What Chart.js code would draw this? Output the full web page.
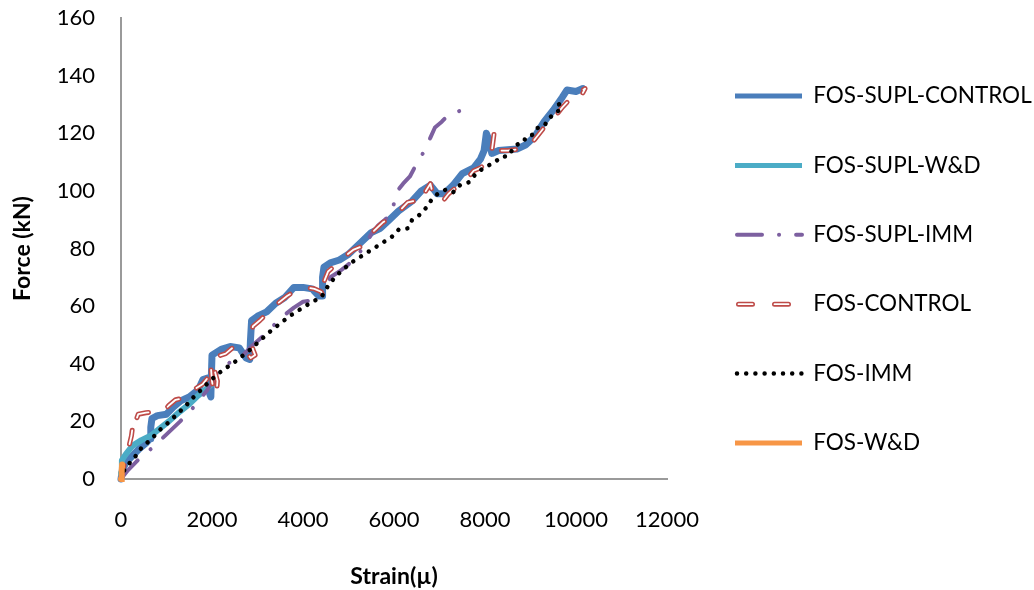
<!DOCTYPE html>
<html>
<head>
<meta charset="utf-8">
<script src="https://cdn.jsdelivr.net/npm/chart.js@4.4.1/dist/chart.umd.min.js"></script>
<style>
html,body{margin:0;padding:0;background:#fff;}
#wrap{width:1034px;height:590px;position:relative;}
</style>
</head>
<body>
<div id="wrap"><canvas id="c" width="1034" height="590"></canvas></div>
<script>
// ---- tick labels ----
const xTickValues = [0, 2000, 4000, 6000, 8000, 10000, 12000];
const yTickValues = [0, 20, 40, 60, 80, 100, 120, 140, 160];

// ---- series names ----
const seriesNames = ['FOS-SUPL-CONTROL', 'FOS-SUPL-W&D', 'FOS-SUPL-IMM', 'FOS-CONTROL', 'FOS-IMM', 'FOS-W&D'];

// ---- FOS-SUPL-CONTROL ----
const supControlStrain = [0,30,100,250,400,550,640,655,680,800,1000,1150,1300,1500,1700,1800,1900,1950,1975,1985,2000,2200,2400,2600,2750,2830,2845,2870,3000,3200,3400,3600,3800,4000,4200,4350,4420,4430,4460,4600,4800,5000,5300,5500,5700,5900,6100,6400,6600,6800,6950,7100,7300,7500,7750,7900,7980,8030,8080,8150,8300,8700,8900,9100,9300,9500,9700,9800,10000,10150];
const supControlForce = [0,3,5.5,8,10.5,12.5,14,18,21,22,22.5,25,27,28.5,31,34.5,35,29.5,28.5,35,43,45,46,45.5,42,41.5,48,55,56.5,58,61,63,66.5,66.5,66,63.5,63.5,70,73.5,75,76,78,82.5,85.5,87,90,93,96.5,100,102,99,99,102,106,108,111,114,120,118,113,114,114.5,116,119,124,128,132.5,135,134.5,135.5];

// ---- FOS-SUPL-W&D ----
const supWDStrain = [0,20,100,250,450,650,850,1050,1300,1500,1700,1850,2000];
const supWDForce = [2,6.5,8.5,11.5,13.5,15,17.5,20,23.5,26,29,31,33];

// ---- FOS-SUPL-IMM ----
const supImmStrain = [0,150,400,700,1000,1300,1600,1900,2050,2150,2400,2650,2900,3150,3400,3600,3800,4000,4200,4400,4500,4600,4800,5000,5200,5350,5500,5650,5800,5950,6050,6200,6350,6450,6600,6700,6800,6900,7050,7200,7400,7620];
const supImmForce = [0,3,7,11,15.5,20,25,31,35,38,40.5,42.5,46.5,50,54,57,59.5,61.5,62,63,66,70,72,74.5,78,80.5,85,88,90,92,99.5,102.5,105,108,112,115,118.5,122,124,126.5,127.5,128.8];

// ---- FOS-CONTROL ----
const controlStrain = [0,40,100,170,230,270,290,320,380,550,800,900,1050,1200,1350,1500,1650,1800,1900,1950,1970,2000,2050,2100,2120,2000,2100,2300,2450,2600,2750,2850,2950,2900,2850,2900,3050,3250,3450,3650,3850,4050,4250,4400,4450,4500,4450,4550,4700,4900,5100,5250,5400,5550,5750,5950,6150,6300,6450,6650,6700,6800,6850,6950,7050,7200,7350,7450,7600,7750,7900,8050,8150,8200,8250,8300,8500,8750,8900,9050,9200,9350,9550,9700,9850,9950,10100,10200,10150];
const controlForce = [0,3,7,11,15,20,21.5,20,22.5,23,23.5,23,25.5,27.5,28,31,31.5,33,35,38,40,34,29,30,34,41,42.5,43.5,45.5,46,44,42,43,45,50,53,55,58,61,63.5,65.5,66.5,66,65,63,64,68,72,74,77,79.5,80.5,84.5,86,89,91,93.5,96,96.5,96,100,102.5,99,97.5,96,99,101,102.5,104,107,108,110,114,120,116,114,114,114.5,115,117,120,123,126,129,131.5,134,134.5,135.5,134];

// ---- FOS-IMM ----
const immStrain = [0,50,130,300,480,650,850,1000,1200,1400,1600,1800,1950,2100,2250,2450,2650,2850,3050,3300,3500,3700,3950,4200,4400,4550,4700,4900,5100,5350,5550,5750,5950,6100,6300,6400,6550,6700,6850,7000,7150,7300,7450,7650,7800,8000,8200,8350,8500,8600,8700,8850,8900,9050,9150,9300,9400,9550,9650,9600,9800];
const immForce = [0,2.5,4.5,7.5,11.5,13.5,17,19,22,25,28.5,31.5,34,36,38,40,42.5,45,48,51.5,54,56.5,59,61.5,63,67,70,73,75.5,78,80,82,84,86.5,87,90,91.5,94,97.5,99.5,100.5,99.5,102,103,106,108.3,109.7,111.8,112,114.2,116,117,118.7,119.5,121.8,122.5,125,127.3,128,129.8,131.5];

// ---- FOS-W&D ----
const wdStrain = [0,15,25];
const wdForce = [0,3,5];

// ---- layout constants ----
const LEG_FONT = 22.5;
const LEG_PAD = 69.4 - LEG_FONT;
const LEG_LINE_X = 735;
const LEG_FIRST_Y = 96;
const LEG_BOX_W = 67;
const RED_DASH = [14, 22];
const RED_LEG_OFFSET = 32.5;

const pts = (xs, ys) => xs.map((x, i) => ({x: x, y: ys[i]}));

Chart.defaults.font.family = "Lato, 'Open Sans', 'DejaVu Sans', sans-serif";
Chart.defaults.color = '#000';

const base = {showLine: true, pointRadius: 0, pointHoverRadius: 0, tension: 0, clip: false, fill: false};

const datasets = [
  Object.assign({}, base, {label: seriesNames[0], data: pts(supControlStrain, supControlForce), borderColor: '#4A7EBB', backgroundColor: '#4A7EBB', borderWidth: 7, borderJoinStyle: 'round', borderCapStyle: 'round', order: 70, legendWidth: 5, legendCap: 'butt'}),
  Object.assign({}, base, {label: seriesNames[1], data: pts(supWDStrain, supWDForce), borderColor: '#4BACC6', backgroundColor: '#4BACC6', borderWidth: 6, borderJoinStyle: 'round', borderCapStyle: 'round', order: 60, legendWidth: 5, legendCap: 'butt'}),
  Object.assign({}, base, {label: seriesNames[2], data: pts(supImmStrain, supImmForce), borderColor: '#7D60A0', backgroundColor: '#7D60A0', borderWidth: 4, borderDash: [25, 17, 0.1, 17], borderCapStyle: 'round', borderJoinStyle: 'round', order: 50, legendWidth: 4, legendDashOffset: 57.1}),
  Object.assign({}, base, {label: seriesNames[3], data: pts(controlStrain, controlForce), borderColor: '#BE4B48', backgroundColor: '#BE4B48', borderWidth: 5, borderDash: RED_DASH, borderCapStyle: 'round', borderJoinStyle: 'round', order: 40, legendWidth: 5, legendDashOffset: RED_LEG_OFFSET}),
  Object.assign({}, base, {label: seriesNames[4], data: pts(immStrain, immForce), borderColor: '#000000', backgroundColor: '#000000', borderWidth: 4.5, borderDash: [0.001, 9.2], borderCapStyle: 'round', order: 30, legendWidth: 4.5, legendDashOffset: 7.2}),
  Object.assign({}, base, {label: seriesNames[5], data: pts(wdStrain, wdForce), borderColor: '#F79646', backgroundColor: '#F79646', borderWidth: 6, borderCapStyle: 'round', order: 20, legendWidth: 5, legendCap: 'butt'}),
  Object.assign({}, base, {label: seriesNames[3] + ' inner', data: pts(controlStrain, controlForce), borderColor: '#ffffff', backgroundColor: '#ffffff', borderWidth: 1.8, borderDash: RED_DASH, borderCapStyle: 'round', borderJoinStyle: 'round', order: 35, skipLegend: true})
];

const legendPlace = {
  id: 'legendPlace',
  afterLayout(chart) {
    const lg = chart.legend;
    if (!lg) return;
    const h = lg.height;
    lg.left = LEG_LINE_X - LEG_PAD;
    lg.right = chart.width;
    lg.width = lg.right - lg.left;
    lg.top = LEG_FIRST_Y - LEG_FONT / 2 - LEG_PAD;
    lg.bottom = lg.top + h;
  },
  afterDraw(chart) {
    const lg = chart.legend;
    if (!lg || !lg.legendItems) return;
    const idx = lg.legendItems.findIndex(it => it.text === seriesNames[3]);
    if (idx < 0) return;
    const x0 = lg.left + LEG_PAD;
    const y = lg.top + LEG_PAD + idx * (LEG_FONT + LEG_PAD) + LEG_FONT / 2;
    const ctx = chart.ctx;
    ctx.save();
    ctx.strokeStyle = '#ffffff';
    ctx.lineWidth = 1.8;
    ctx.lineCap = 'round';
    ctx.setLineDash(RED_DASH);
    ctx.lineDashOffset = RED_LEG_OFFSET;
    ctx.beginPath();
    ctx.moveTo(x0, y);
    ctx.lineTo(x0 + LEG_BOX_W, y);
    ctx.stroke();
    ctx.restore();
  }
};

new Chart(document.getElementById('c'), {
  type: 'scatter',
  data: {datasets: datasets},
  options: {
    responsive: false,
    animation: false,
    events: [],
    layout: {padding: {top: 18, right: 167, bottom: 0, left: 0}},
    plugins: {
      tooltip: {enabled: false},
      legend: {
        display: true,
        position: 'right',
        align: 'start',
        maxWidth: 200,
        labels: {
          usePointStyle: true,
          pointStyleWidth: LEG_BOX_W,
          padding: LEG_PAD,
          color: '#000',
          font: {size: LEG_FONT},
          generateLabels: (chart) => chart.data.datasets
            .map((ds, i) => ({
              text: ds.label,
              fillStyle: 'rgba(0,0,0,0)',
              strokeStyle: ds.borderColor,
              lineWidth: ds.legendWidth || ds.borderWidth,
              lineDash: ds.borderDash || [],
              lineDashOffset: ds.legendDashOffset || 0,
              lineCap: ds.legendCap || ds.borderCapStyle || 'butt',
              lineJoin: 'round',
              pointStyle: 'line',
              hidden: false,
              datasetIndex: i,
              fontColor: '#000'
            }))
            .filter(it => !chart.data.datasets[it.datasetIndex].skipLegend)
        }
      }
    },
    scales: {
      x: {
        type: 'linear',
        min: xTickValues[0],
        max: xTickValues[xTickValues.length - 1],
        afterBuildTicks: (s) => { s.ticks = xTickValues.map(v => ({value: v})); },
        afterFit: (s) => { s.height = 111; },
        grid: {display: false, drawTicks: false},
        border: {display: true, color: '#9a9a9a', width: 2},
        ticks: {padding: 28, color: '#000', font: {size: 22}, maxRotation: 0, autoSkip: false, callback: (v) => String(v)},
        title: {display: true, text: 'Strain(µ)', color: '#000', font: {size: 23, weight: 'bold'}, padding: {top: 0, bottom: 0}}
      },
      y: {
        type: 'linear',
        min: yTickValues[0],
        max: yTickValues[yTickValues.length - 1],
        afterBuildTicks: (s) => { s.ticks = yTickValues.map(v => ({value: v})); },
        afterFit: (s) => { s.width = 121; },
        grid: {display: false, drawTicks: true, tickLength: 23},
        border: {display: true, color: '#9a9a9a', width: 2},
        ticks: {padding: 3, color: '#000', font: {size: 22}, autoSkip: false, callback: (v) => String(v)},
        title: {display: true, text: 'Force (kN)', color: '#000', font: {size: 23, weight: 'bold'}, padding: {top: 9, bottom: 0}}
      }
    }
  },
  plugins: [legendPlace]
});
</script>
</body>
</html>
